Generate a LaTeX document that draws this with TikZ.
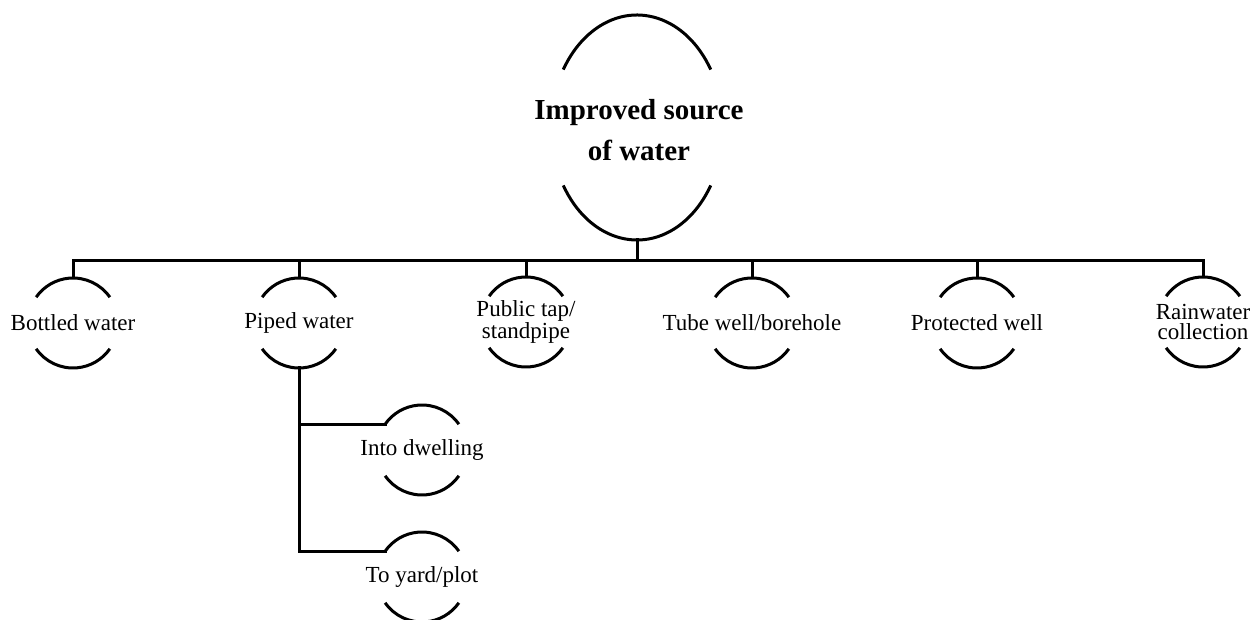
\documentclass[tikz,border=0pt]{standalone}
\usepackage{fontspec}
\setmainfont{Liberation Serif}
\usetikzlibrary{calc}
\tikzset{
  conn/.style={line width=1.5pt, line cap=rect},
  arcline/.style={line width=1.5pt},
  leaf/.style={align=center, inner sep=0pt, font=\fontsize{11.5}{10.2}\selectfont},
  rootnode/.style={align=center, inner sep=0pt, font=\fontsize{14.5}{20.5}\selectfont\bfseries},
}
\begin{document}
\begin{tikzpicture}[x=0.5pt,y=-0.5pt]
\useasboundingbox (0,0) rectangle (1254,620);
% root
\node[rootnode] (root) at (639,130) {Improved source\\of water};
\coordinate (rc0) at (637,127.5);
\draw[arcline] ($(rc0)+(31:43pt and 56.25pt)$) arc[start angle=31,end angle=149,x radius=43pt,y radius=56.25pt];
\draw[arcline] ($(rc0)+(211:43pt and 56.25pt)$) arc[start angle=211,end angle=329,x radius=43pt,y radius=56.25pt];
\coordinate (root-b) at ($(rc0)+(270:56.25pt)$);
% children
\node[leaf] (bw) at (73,323) {Bottled water};
\node[leaf] (pw) at (299,323) {Piped water};
\node[leaf] (pt) at (526,322) {Public tap/\\standpipe};
\node[leaf] (tw) at (752,323) {Tube well/borehole};
\node[leaf] (pr) at (977,323) {Protected well};
\node[leaf] (rw) at (1203,322) {Rainwater\\collection};
\node[leaf] (id) at (422,450) {Into dwelling};
\node[leaf] (ty) at (422,577) {To yard/plot};
\foreach \n in {bw,pw,pt,tw,pr,rw,id,ty}{
  \coordinate (\n-c) at (\n.center);
  \draw[arcline] ($(\n-c)+(35:22.5pt)$) arc[start angle=35,end angle=145,radius=22.5pt];
  \draw[arcline] ($(\n-c)+(215:22.5pt)$) arc[start angle=215,end angle=325,radius=22.5pt];
  \coordinate (\n-t) at ($(\n-c)+(90:22.5pt)$);
  \coordinate (\n-b) at ($(\n-c)+(270:22.5pt)$);
  \coordinate (\n-l) at ($(\n-c)+(145:22.5pt)$);
}
% connectors
\coordinate (bus) at (637,261);
\draw[conn] (root-b) -- (bus);
\draw[conn] (bw-t) |- (bus) -| (rw-t);
\foreach \n in {pw,pt,tw,pr}{
  \draw[conn] (\n-t) -- (\n-t |- bus);
}
\draw[conn] (pw-b) |- (id-l);
\draw[conn] (pw-b) |- (ty-l);
\end{tikzpicture}
\end{document}
